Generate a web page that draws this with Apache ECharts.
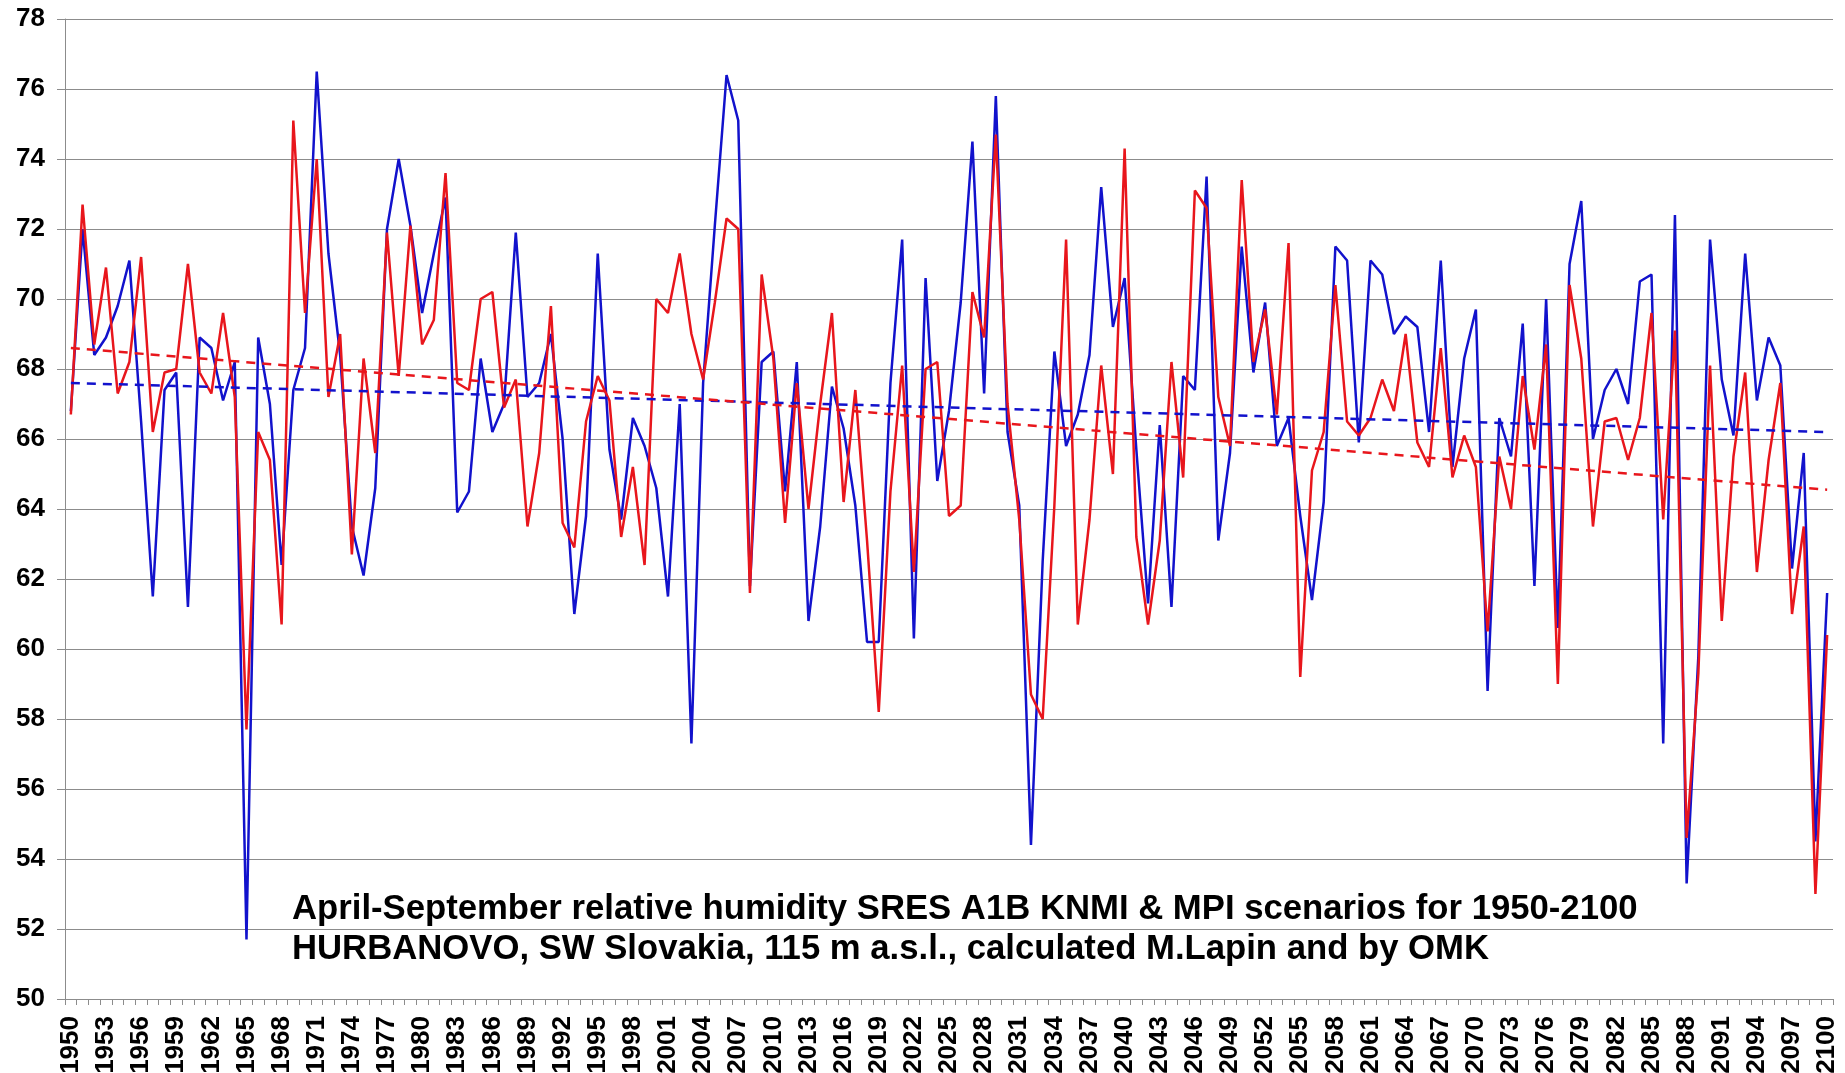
<!DOCTYPE html>
<html>
<head>
<meta charset="utf-8">
<title>Hurbanovo relative humidity</title>
<script src="https://cdn.jsdelivr.net/npm/echarts@6/dist/echarts.min.js"></script>
<style>
  html, body { margin: 0; padding: 0; background: #fff; }
  #chart { width: 1845px; height: 1073px; }
</style>
</head>
<body>
<div id="chart"></div>
<script>
// years 1950..2100
var years = []
for (var y = 1950; y <= 2100; y++) years.push(String(y))

// KNMI scenario (blue)
var knmi = [
  66.8, 72.0, 68.4, 68.9, 69.8, 71.1, 66.5, 61.5, 67.4, 67.9,
  61.2, 68.9, 68.6, 67.1, 68.2, 51.7, 68.9, 67.0, 62.4, 67.4,
  68.6, 76.5, 71.3, 68.4, 63.5, 62.1, 64.6, 72.0, 74.0, 72.1,
  69.6, 71.3, 72.9, 63.9, 64.5, 68.3, 66.2, 67.0, 71.9, 67.2,
  67.6, 69.0, 66.0, 61.0, 63.8, 71.3, 65.7, 63.7, 66.6, 65.8,
  64.6, 61.5, 67.0, 57.3, 67.6, 72.1, 76.4, 75.1, 61.8, 68.2,
  68.5, 64.5, 68.2, 60.8, 63.5, 67.5, 66.3, 64.1, 60.2, 60.2,
  67.6, 71.7, 60.3, 70.6, 64.8, 66.8, 69.9, 74.5, 67.3, 75.8,
  66.2, 64.1, 54.4, 62.5, 68.5, 65.8, 66.7, 68.4, 73.2, 69.2,
  70.6, 65.7, 61.3, 66.4, 61.2, 67.8, 67.4, 73.5, 63.1, 65.6,
  71.5, 67.9, 69.9, 65.8, 66.6, 63.8, 61.4, 64.2, 71.5, 71.1,
  65.9, 71.1, 70.7, 69.0, 69.5, 69.2, 66.2, 71.1, 65.2, 68.3,
  69.7, 58.8, 66.6, 65.5, 69.3, 61.8, 70.0, 60.6, 71.0, 72.8,
  66.0, 67.4, 68.0, 67.0, 70.5, 70.7, 57.3, 72.4, 53.3, 59.8,
  71.7, 67.7, 66.1, 71.3, 67.1, 68.9, 68.1, 62.3, 65.6, 54.5,
  61.6
]

// MPI scenario (red)
var mpi = [
  66.7, 72.7, 68.7, 70.9, 67.3, 68.2, 71.2, 66.2, 67.9, 68.0,
  71.0, 67.9, 67.3, 69.6, 67.2, 57.7, 66.2, 65.4, 60.7, 75.1,
  69.6, 74.0, 67.2, 69.0, 62.7, 68.3, 65.6, 71.9, 67.8, 72.1,
  68.7, 69.4, 73.6, 67.6, 67.4, 70.0, 70.2, 66.9, 67.7, 63.5,
  65.6, 69.8, 63.6, 62.9, 66.5, 67.8, 67.1, 63.2, 65.2, 62.4,
  70.0, 69.6, 71.3, 69.0, 67.7, 69.9, 72.3, 72.0, 61.6, 70.7,
  68.3, 63.6, 67.6, 64.0, 67.0, 69.6, 64.2, 67.4, 63.1, 58.2,
  64.5, 68.1, 62.2, 68.0, 68.2, 63.8, 64.1, 70.2, 68.9, 74.7,
  67.0, 63.7, 58.7, 58.0, 64.1, 71.7, 60.7, 63.7, 68.1, 65.0,
  74.3, 63.2, 60.7, 63.1, 68.2, 64.9, 73.1, 72.6, 67.2, 65.8,
  73.4, 68.2, 69.7, 66.7, 71.6, 59.2, 65.1, 66.2, 70.4, 66.5,
  66.1, 66.6, 67.7, 66.8, 69.0, 65.9, 65.2, 68.6, 64.9, 66.1,
  65.2, 60.5, 65.5, 64.0, 67.8, 65.7, 68.7, 59.0, 70.4, 68.3,
  63.5, 66.5, 66.6, 65.4, 66.6, 69.6, 63.7, 69.1, 54.6, 59.3,
  68.1, 60.8, 65.5, 67.9, 62.2, 65.4, 67.6, 61.0, 63.5, 53.0,
  60.4
]

// linear trend end points (1950, 2100)
var knmiTrend = [67.6, 66.2]
var mpiTrend = [68.6, 64.55]

var titleLines = [
  'April-September relative humidity SRES A1B KNMI & MPI scenarios for 1950-2100',
  'HURBANOVO, SW Slovakia, 115 m a.s.l., calculated M.Lapin and by OMK'
]

var FONT = 'Liberation Sans, Arial, sans-serif'
var BLUE = '#1212cc'
var RED = '#e8161c'

function trendLine(ends, color) {
  return {
    silent: true,
    symbol: ['none', 'none'],
    label: { show: false },
    lineStyle: { color: color, width: 2.5, type: [9, 7] },
    data: [[
      { coord: [years[0], ends[0]] },
      { coord: [years[years.length - 1], ends[1]] }
    ]]
  }
}

var chart = echarts.init(document.getElementById('chart'))
chart.setOption({
  animation: false,
  backgroundColor: '#fff',
  title: {
    text: titleLines.join('\n'),
    left: 287,
    top: 885,
    textStyle: {
      fontFamily: FONT,
      fontWeight: 'bold',
      fontSize: 34.7,
      lineHeight: 39.5,
      color: '#000'
    }
  },
  grid: {
    left: 65,
    right: 12,
    top: 19,
    bottom: 74,
    containLabel: false,
    outerBoundsMode: 'none'
  },
  xAxis: {
    type: 'category',
    data: years,
    boundaryGap: true,
    axisLine: { lineStyle: { color: '#8c8c8c', width: 1 } },
    axisTick: { show: true, length: 6, interval: 0, lineStyle: { color: '#8c8c8c' } },
    axisLabel: {
      interval: 2,
      rotate: 90,
      margin: 17,
      fontFamily: FONT,
      fontWeight: 'bold',
      fontSize: 26,
      color: '#000'
    },
    splitLine: { show: false }
  },
  yAxis: {
    type: 'value',
    min: 50,
    max: 78,
    interval: 2,
    axisLine: { show: true, lineStyle: { color: '#8c8c8c', width: 1 } },
    axisTick: { show: true, length: 8, lineStyle: { color: '#8c8c8c' } },
    axisLabel: {
      margin: 20,
      fontFamily: FONT,
      fontWeight: 'bold',
      fontSize: 26,
      color: '#000'
    },
    splitLine: { lineStyle: { color: '#8c8c8c', width: 1 } }
  },
  series: [
    {
      name: 'KNMI',
      type: 'line',
      data: knmi,
      symbol: 'none',
      lineStyle: { color: BLUE, width: 2.5 },
      itemStyle: { color: BLUE },
      markLine: trendLine(knmiTrend, BLUE)
    },
    {
      name: 'MPI',
      type: 'line',
      data: mpi,
      symbol: 'none',
      lineStyle: { color: RED, width: 2.5 },
      itemStyle: { color: RED },
      markLine: trendLine(mpiTrend, RED)
    }
  ]
})
</script>
</body>
</html>
